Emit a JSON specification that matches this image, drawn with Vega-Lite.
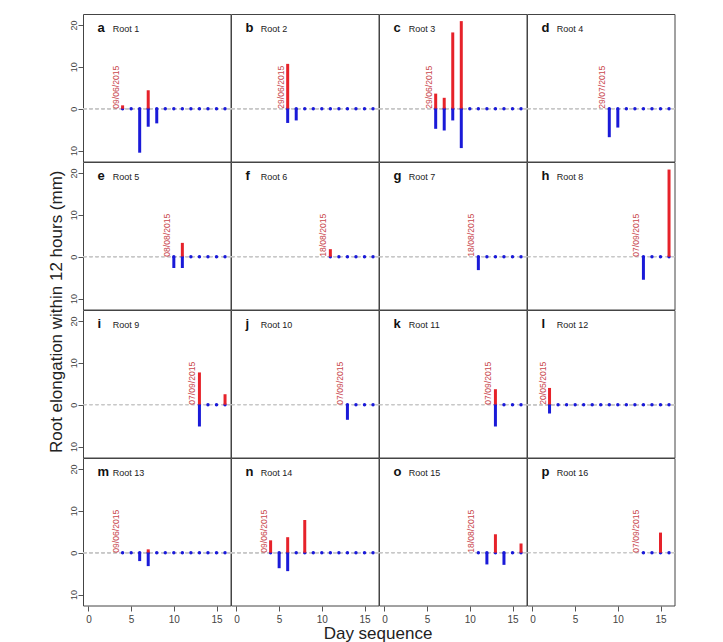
{
  "$schema": "https://vega.github.io/schema/vega-lite/v6.json",
  "autosize": {"type": "pad"},
  "padding": {"left": 47, "top": 13, "right": 5, "bottom": 0},
  "background": "white",
  "title": {"text": "Root elongation within 12 hours (mm)", "orient": "left", "anchor": "middle", "fontSize": 17, "fontWeight": "normal", "color": "#222", "font": "Liberation Sans", "offset": 3, "dx": 17},
  "datasets": {
    "roots": [
      {"r": 1, "letter": "a", "name": "Root 1", "date": "09/06/2015"},
      {"r": 2, "letter": "b", "name": "Root 2", "date": "29/06/2015"},
      {"r": 3, "letter": "c", "name": "Root 3", "date": "29/06/2015"},
      {"r": 4, "letter": "d", "name": "Root 4", "date": "29/07/2015"},
      {"r": 5, "letter": "e", "name": "Root 5", "date": "08/08/2015"},
      {"r": 6, "letter": "f", "name": "Root 6", "date": "18/08/2015"},
      {"r": 7, "letter": "g", "name": "Root 7", "date": "18/08/2015"},
      {"r": 8, "letter": "h", "name": "Root 8", "date": "07/09/2015"},
      {"r": 9, "letter": "i", "name": "Root 9", "date": "07/09/2015"},
      {"r": 10, "letter": "j", "name": "Root 10", "date": "07/09/2015"},
      {"r": 11, "letter": "k", "name": "Root 11", "date": "07/09/2015"},
      {"r": 12, "letter": "l", "name": "Root 12", "date": "20/05/2015"},
      {"r": 13, "letter": "m", "name": "Root 13", "date": "09/06/2015"},
      {"r": 14, "letter": "n", "name": "Root 14", "date": "09/06/2015"},
      {"r": 15, "letter": "o", "name": "Root 15", "date": "18/08/2015"},
      {"r": 16, "letter": "p", "name": "Root 16", "date": "07/09/2015"}
    ],
    "days": [
      {"r": 1, "day": 4, "up": 0.8}, {"r": 1, "day": 5}, {"r": 1, "day": 6, "dn": -10.5}, {"r": 1, "day": 7, "up": 4.4, "dn": -4.3}, {"r": 1, "day": 8, "dn": -3.5},
      {"r": 1, "day": 9}, {"r": 1, "day": 10}, {"r": 1, "day": 11}, {"r": 1, "day": 12}, {"r": 1, "day": 13}, {"r": 1, "day": 14}, {"r": 1, "day": 15}, {"r": 1, "day": 16},
      {"r": 2, "day": 6, "up": 10.7, "dn": -3.4}, {"r": 2, "day": 7, "dn": -2.8}, {"r": 2, "day": 8}, {"r": 2, "day": 9}, {"r": 2, "day": 10}, {"r": 2, "day": 11}, {"r": 2, "day": 12}, {"r": 2, "day": 13}, {"r": 2, "day": 14}, {"r": 2, "day": 15}, {"r": 2, "day": 16},
      {"r": 3, "day": 6, "up": 3.6, "dn": -4.8}, {"r": 3, "day": 7, "up": 2.6, "dn": -5.2}, {"r": 3, "day": 8, "up": 18.2, "dn": -2.8}, {"r": 3, "day": 9, "up": 20.9, "dn": -9.4},
      {"r": 3, "day": 10}, {"r": 3, "day": 11}, {"r": 3, "day": 12}, {"r": 3, "day": 13}, {"r": 3, "day": 14}, {"r": 3, "day": 15}, {"r": 3, "day": 16},
      {"r": 4, "day": 9, "dn": -6.8}, {"r": 4, "day": 10, "dn": -4.5}, {"r": 4, "day": 11}, {"r": 4, "day": 12}, {"r": 4, "day": 13}, {"r": 4, "day": 14}, {"r": 4, "day": 15}, {"r": 4, "day": 16},
      {"r": 5, "day": 10, "dn": -2.7}, {"r": 5, "day": 11, "up": 3.3, "dn": -2.7}, {"r": 5, "day": 12}, {"r": 5, "day": 13}, {"r": 5, "day": 14}, {"r": 5, "day": 15}, {"r": 5, "day": 16},
      {"r": 6, "day": 11, "up": 1.8}, {"r": 6, "day": 12}, {"r": 6, "day": 13}, {"r": 6, "day": 14}, {"r": 6, "day": 15}, {"r": 6, "day": 16},
      {"r": 7, "day": 11, "dn": -3.2}, {"r": 7, "day": 12}, {"r": 7, "day": 13}, {"r": 7, "day": 14}, {"r": 7, "day": 15}, {"r": 7, "day": 16},
      {"r": 8, "day": 13, "dn": -5.5}, {"r": 8, "day": 14}, {"r": 8, "day": 15}, {"r": 8, "day": 16, "up": 20.8},
      {"r": 9, "day": 13, "up": 7.7, "dn": -5.2}, {"r": 9, "day": 14}, {"r": 9, "day": 15}, {"r": 9, "day": 16, "up": 2.5},
      {"r": 10, "day": 13, "dn": -3.6}, {"r": 10, "day": 14}, {"r": 10, "day": 15}, {"r": 10, "day": 16},
      {"r": 11, "day": 13, "up": 3.7, "dn": -5.2}, {"r": 11, "day": 14}, {"r": 11, "day": 15}, {"r": 11, "day": 16},
      {"r": 12, "day": 2, "up": 4.0, "dn": -2.1}, {"r": 12, "day": 3}, {"r": 12, "day": 4}, {"r": 12, "day": 5}, {"r": 12, "day": 6}, {"r": 12, "day": 7}, {"r": 12, "day": 8}, {"r": 12, "day": 9},
      {"r": 12, "day": 10}, {"r": 12, "day": 11}, {"r": 12, "day": 12}, {"r": 12, "day": 13}, {"r": 12, "day": 14}, {"r": 12, "day": 15}, {"r": 12, "day": 16},
      {"r": 13, "day": 4}, {"r": 13, "day": 5}, {"r": 13, "day": 6, "dn": -2.0}, {"r": 13, "day": 7, "up": 0.8, "dn": -3.2}, {"r": 13, "day": 8}, {"r": 13, "day": 9}, {"r": 13, "day": 10},
      {"r": 13, "day": 11}, {"r": 13, "day": 12}, {"r": 13, "day": 13}, {"r": 13, "day": 14}, {"r": 13, "day": 15}, {"r": 13, "day": 16},
      {"r": 14, "day": 4, "up": 2.95}, {"r": 14, "day": 5, "dn": -3.7}, {"r": 14, "day": 6, "up": 3.7, "dn": -4.4}, {"r": 14, "day": 7}, {"r": 14, "day": 8, "up": 7.8}, {"r": 14, "day": 9},
      {"r": 14, "day": 10}, {"r": 14, "day": 11}, {"r": 14, "day": 12}, {"r": 14, "day": 13}, {"r": 14, "day": 14}, {"r": 14, "day": 15}, {"r": 14, "day": 16},
      {"r": 15, "day": 11}, {"r": 15, "day": 12, "dn": -2.8}, {"r": 15, "day": 13, "up": 4.4}, {"r": 15, "day": 14, "dn": -2.9}, {"r": 15, "day": 15}, {"r": 15, "day": 16, "up": 2.2},
      {"r": 16, "day": 13}, {"r": 16, "day": 14}, {"r": 16, "day": 15, "up": 4.8}, {"r": 16, "day": 16}
    ],
    "xtitle": [{"t": "Day sequence"}]
  },
  "vconcat": [
    {
      "data": {"name": "days"},
      "transform": [
        {"lookup": "r", "from": {"data": {"name": "roots"}, "key": "r", "fields": ["letter", "name", "date"]}}
      ],
      "facet": {"field": "r", "type": "ordinal", "header": {"labels": false, "labelFontSize": 0, "labelPadding": 0, "labelExpr": "''", "title": null}},
      "columns": 4,
      "spacing": 0,
      "bounds": "flush",
      "spec": {
        "width": 147.5,
        "height": 147.5,
        "layer": [
          {
            "mark": {"type": "rule", "color": "#c8c8c8", "strokeDash": [3, 3], "strokeWidth": 1},
            "encoding": {
              "y": {"datum": 0, "type": "quantitative", "title": null, "scale": {"domain": [-12.6, 22.6], "nice": false, "zero": false}}
            }
          },
          {
            "mark": {"type": "point", "filled": true, "color": "#1a1ad8", "size": 12, "opacity": 1},
            "encoding": {
              "x": {"field": "day", "type": "quantitative", "scale": {"domain": [-0.64, 16.64], "nice": false, "zero": false},
                "axis": {"title": null, "values": [0, 5, 10, 15], "domain": false, "grid": false, "tickSize": 5, "tickColor": "#555", "labelColor": "#444", "labelFontSize": 10, "labelPadding": 3, "labelFont": "Liberation Sans"}},
              "y": {"datum": 0, "type": "quantitative",
                "axis": {"title": null, "values": [-10, -5, 0, 5, 10, 15, 20], "labelExpr": "abs(datum.value)", "domain": false, "grid": false, "tickSize": 5, "tickColor": "#555", "labelColor": "#444", "labelFontSize": 9, "labelAngle": 270, "labelAlign": "center", "labelBaseline": "bottom", "labelPadding": 0, "labelFont": "Liberation Sans"}}
            }
          },
          {
            "transform": [{"filter": "datum.up > 0"}],
            "mark": {"type": "rule", "color": "#e6222a", "strokeWidth": 3},
            "encoding": {
              "x": {"field": "day", "type": "quantitative", "title": null},
              "y": {"field": "up", "type": "quantitative", "title": null},
              "y2": {"datum": 0}
            }
          },
          {
            "transform": [{"filter": "datum.dn < 0"}],
            "mark": {"type": "rule", "color": "#1a1ad8", "strokeWidth": 3},
            "encoding": {
              "x": {"field": "day", "type": "quantitative", "title": null},
              "y": {"field": "dn", "type": "quantitative", "title": null},
              "y2": {"datum": 0}
            }
          },
          {
            "transform": [{"aggregate": [{"op": "min", "field": "day", "as": "first"}], "groupby": ["date"]}],
            "mark": {"type": "text", "angle": 270, "align": "left", "baseline": "bottom", "dy": -2, "fontSize": 8.6, "color": "#c9474d", "font": "Liberation Sans"},
            "encoding": {
              "x": {"field": "first", "type": "quantitative", "title": null},
              "y": {"datum": 0, "type": "quantitative", "title": null},
              "text": {"field": "date"}
            }
          },
          {
            "transform": [{"aggregate": [{"op": "count", "as": "n"}], "groupby": ["letter"]}],
            "mark": {"type": "text", "align": "left", "baseline": "alphabetic", "fontSize": 13, "fontWeight": "bold", "color": "#111", "font": "Liberation Sans"},
            "encoding": {
              "x": {"datum": 1.05, "type": "quantitative", "title": null},
              "y": {"datum": 18.3, "type": "quantitative", "title": null},
              "text": {"field": "letter"}
            }
          },
          {
            "transform": [{"aggregate": [{"op": "count", "as": "n"}], "groupby": ["name"]}],
            "mark": {"type": "text", "align": "left", "baseline": "alphabetic", "fontSize": 9, "color": "#222", "font": "Liberation Sans"},
            "encoding": {
              "x": {"datum": 2.85, "type": "quantitative", "title": null},
              "y": {"datum": 18.3, "type": "quantitative", "title": null},
              "text": {"field": "name"}
            }
          }
        ]
      }
    },
    {
      "data": {"name": "xtitle"},
      "width": 590,
      "height": 20,
      "view": {"stroke": null},
      "mark": {"type": "text", "fontSize": 17, "color": "#222", "font": "Liberation Sans", "baseline": "middle"},
      "encoding": {"text": {"field": "t"}}
    }
  ],
  "spacing": 0,
  "config": {
    "view": {"stroke": "#444", "strokeWidth": 1},
    "font": "Liberation Sans"
  }
}
